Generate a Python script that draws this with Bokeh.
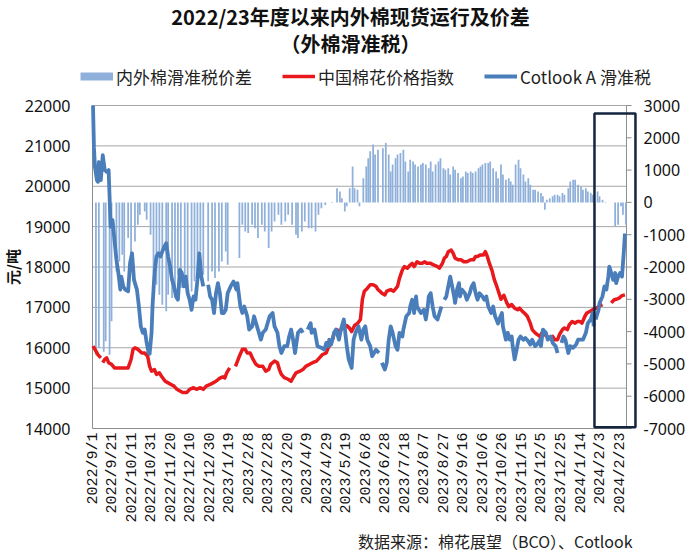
import math
from datetime import date
from bokeh.plotting import figure
from bokeh.models import Range1d, Legend, Label, LegendItem, BoxAnnotation
from bokeh.core.properties import value
from bokeh.embed import file_html
from bokeh.resources import INLINE

NaN = float("nan")
START = date(2022, 9, 1)

tick_labels = ["2022/9/1", "2022/9/21", "2022/10/11", "2022/10/31", "2022/11/20",
               "2022/12/10", "2022/12/30", "2023/1/19", "2023/2/8", "2023/2/28",
               "2023/3/20", "2023/4/9", "2023/4/29", "2023/5/19", "2023/6/8",
               "2023/6/28", "2023/7/18", "2023/8/7", "2023/8/27", "2023/9/16",
               "2023/10/6", "2023/10/26", "2023/11/15", "2023/12/5", "2023/12/25",
               "2024/1/14", "2024/2/3", "2024/2/23"]

# Cotlook A (sliding-tariff), yuan/t  -- day offsets from 2022/9/1
cotlook_day = [0, 1, 2, 4, 5, 6, 8, 10, 12, 14,
               16, 17, 18, 20, 22, 24, 26, 28, 29, 31,
               33, 36, 38, 40, 42, 45, 47, 49, 51, 53,
               55, 57, 58, 60, 61, 63, 65, 67, 69, 71,
               73, 75, 77, 79, 81, 83, 85, 87, 89, 91,
               93, 95, 97, 99, 101, 103, 105, 107, 109, 111,
               113, 115, 118, 120, 122, 124, 126, 128, 130, 132,
               134, 136, 138, 141, 144, 147, 148, 151, 153, 155,
               158, 160, 163, 165, 169, 172, 174, 177, 181, 184,
               186, 189, 191, 193, 196, 199, 201, 203, 205, 207,
               210, 213, 215, 217, 220, 223, 224, 227, 230, 234,
               237, 239, 241, 242, 244, 247, 249, 252, 254, 257,
               260, 262, 265, 267, 269, 272, 275, 277, 279, 281,
               284, 286, 288, 290, 293, 294, 296, 299, 301, 303,
               305, 307, 310, 312, 314, 317, 318, 321, 324, 325,
               327, 329, 331, 332, 334, 336, 339, 341, 343, 344,
               346, 348, 350, 353, 355, 357, 358, 360, 362, 364,
               366, 368, 370, 371, 373, 375, 376, 378, 381, 383,
               386, 388, 390, 392, 394, 396, 399, 401, 403, 405,
               408, 410, 412, 415, 417, 419, 420, 423, 425, 427,
               429, 430, 432, 434, 436, 438, 441, 443, 446, 448,
               450, 453, 455, 458, 459, 461, 464, 466, 469, 471,
               474, 476, 478, 480, 482, 484, 487, 489, 492, 495,
               497, 499, 502, 505, 507, 510, 512, 513, 514, 515,
               518, 519, 522, 524, 526, 528, 529, 531, 533, 535,
               536, 538, 540, 542, 544, 545]
cotlook_val = [22000, 20950, 20480, 20150, 20110, 20600, 20150, 20770, 20400, 20360,
               20400, 19740, 19000, 19160, 18670, 18180, 17850, 17440, 17760, 17520,
               17440, 17400, 18100, 18340, 17680, 17440, 17030, 16530, 16370, 16450,
               16120, 15870, 15850, 16370, 17030, 17850, 18260, 18340, 18260, 18380,
               18500, 18590, 18260, 18010, 17680, 17520, 17270, 17190, 17930, 17850,
               17520, 17760, 17350, 17190, 16940, 17270, 17190, 17680, 18340, 17760,
               17520, NaN, 17560, 17270, 17190, 16860, 17350, 17600, 17350, 16860,
               16860, 16940, 17350, 17520, 17640, 17440, 17600, 17020, 16860, 17020,
               16780, 16450, 16530, 16780, 16450, 16200, 16370, 16450, 16780, 16860,
               16530, 16370, 16040, 15870, 16040, 16040, 16280, 16450, 16200, 15870,
               16370, 16450, 16370, NaN, 16450, 16610, 16370, 16450, 16040, 16000,
               15950, 16120, 16040, 16200, 16080, 16370, 16450, 16200, 16450, 16700,
               16040, 15710, 15500, 16200, 16370, 16530, 16200, 16450, 16530, 16200,
               16040, 15790, 15870, 15950, 15870, NaN, 15630, 15460, 15630, 16200,
               16530, 16370, 16040, 15950, 16370, 16280, 16450, 16780, 16860, 17020,
               17190, 16860, 17270, 17020, 16940, 16860, 16940, 16700, 17020, 17270,
               17350, 17020, 16780, 16700, 16860, 17020, NaN, 17190, 17270, 17520,
               17760, 17520, 17270, 17110, 17440, 17600, 17270, 17440, 17350, 17190,
               17350, 17520, 17600, 17350, 17190, 17350, 17270, 17190, 17270, 17020,
               16860, 17020, 16780, 16600, 16750, 16860, 16530, 16200, 16370, 16200,
               16280, 16040, 15710, 15950, 16200, 16280, 16200, 16240, 16160, 16080,
               16200, 16040, 16080, 16200, 16040, 16450, 16370, 16200, 16280, 16120,
               16040, 15870, NaN, 16120, 16280, 16200, 15870, 16040, 16000, 16080,
               16200, 16200, 16200, 16370, 16610, 16700, 16860, 16530, NaN, 16700,
               16940, 17110, 17270, 17520, 17440, 17760, 18010, 17850, 17680, 17850,
               17600, 17760, 17850, 17760, 18420, 18830]

# China Cotton Index, yuan/t
cc_day = [0, 2, 5, 8, 9, 10, 12, 14, 16, 19,
          22, 26, 29, 33, 36, 39, 41, 43, 46, 50,
          53, 56, 58, 60, 63, 65, 68, 70, 74, 77,
          80, 83, 86, 89, 92, 96, 99, 103, 106, 110,
          113, 116, 120, 123, 126, 130, 133, 135, 137, 140,
          142, 146, 150, 153, 156, 158, 161, 164, 167, 170,
          174, 177, 180, 182, 186, 189, 191, 193, 196, 200,
          203, 206, 208, 212, 215, 218, 222, 225, 229, 232,
          235, 239, 241, 243, 246, 247, 250, 252, 255, 258,
          260, 263, 265, 268, 271, 274, 276, 278, 281, 284,
          287, 290, 292, 294, 296, 299, 301, 305, 308, 312,
          314, 317, 319, 322, 325, 327, 329, 332, 335, 337,
          340, 342, 346, 349, 353, 355, 358, 360, 362, 364,
          367, 369, 371, 374, 377, 380, 383, 387, 390, 392,
          394, 397, 400, 402, 404, 406, 409, 411, 414, 416,
          418, 421, 424, 426, 429, 432, 435, 437, 440, 442,
          445, 448, 450, 453, 455, 458, 460, 463, 465, 468,
          471, 473, 476, 478, 481, 483, 486, 488, 491, 494,
          496, 499, 501, 504, 506, 509, 512, 514, 516, 519,
          522, 526, 531, 534, 536, 539, 542, 545]
cc_val = [16040, 15960, 15830, 15750, NaN, 15630, 15710, 15750, 15630, 15590,
          15500, 15500, 15500, 15500, 15500, 15710, 15960, 16000, 15960, 15870,
          15870, 15790, 15540, 15420, 15460, 15340, 15380, 15300, 15170, 15130,
          15090, 15050, 14970, 14930, 14890, 14890, 14970, 15010, 14970, 15010,
          14970, 15050, 15090, 15130, 15170, 15250, 15280, 15250, 15380, 15500,
          NaN, 15540, 15790, 15960, 15960, 15870, 15870, 15710, 15590, 15540,
          15540, 15420, 15460, 15590, 15670, 15630, 15460, 15340, 15260, 15220,
          15170, 15300, 15380, 15420, 15460, 15540, 15590, 15630, 15670, 15750,
          15830, 15870, 16000, 16080, 16240, 16370, 16450, 16370, 16480, 16500,
          16550, 16480, 16400, 16550, 16600, 16700, 17200, 17400, 17470, 17560,
          17560, 17520, 17440, 17400, 17350, 17310, 17400, 17440, 17400, 17520,
          17720, 17930, 18010, 17970, 18050, 18090, 18010, 18130, 18090, 18090,
          18130, 18090, 18090, 18050, 18010, 17970, 18090, 18220, 18260, 18380,
          18420, 18340, 18220, 18180, 18180, 18130, 18130, 18180, 18180, 18260,
          18260, 18300, 18300, 18380, 18260, 18100, 17900, 17700, 17500, 17350,
          17200, 17300, 17110, 17020, 17070, 16980, 16940, 16980, 16900, 16860,
          16780, 16610, 16450, 16370, 16330, 16280, 16370, 16330, 16280, 16240,
          16280, 16200, 16200, 16330, 16450, 16490, 16450, 16570, 16650, 16610,
          16650, 16650, 16610, 16780, 16860, 16900, 16940, 16980, 16980, 17040,
          17070, NaN, 17110, 17190, 17200, 17230, 17290, 17310]

# Domestic minus imported (sliding tariff) spread, yuan/t
spread_day = [3, 6, 11, 13, 17, 19, 24, 27, 30, 32,
              36, 39, 43, 46, 48, 53, 55, 59, 62, 65,
              68, 71, 75, 77, 81, 84, 87, 90, 94, 97,
              101, 104, 107, 110, 113, 118, 122, 125, 129, 132,
              136, 138, 150, 153, 156, 159, 163, 166, 169, 173,
              176, 180, 183, 186, 190, 193, 197, 200, 204, 208,
              210, 214, 217, 221, 224, 228, 231, 234, 238, 245,
              250, 253, 255, 258, 260, 263, 266, 268, 271, 273,
              277, 280, 282, 284, 287, 289, 292, 297, 300, 303,
              305, 307, 310, 312, 315, 318, 320, 323, 325, 328,
              330, 333, 336, 338, 341, 344, 346, 348, 351, 354,
              356, 359, 361, 364, 366, 369, 371, 374, 377, 379,
              382, 384, 387, 389, 392, 395, 397, 399, 402, 405,
              407, 410, 413, 415, 418, 420, 423, 426, 428, 430,
              433, 436, 438, 441, 443, 446, 448, 451, 453, 456,
              459, 461, 463, 465, 468, 471, 473, 476, 478, 481,
              483, 487, 489, 492, 494, 497, 500, 502, 505, 507,
              510, 512, 517, 519, 522, 525, 535, 538, 541, 543, 546]
spread_val = [-4720, -4500, -4620, -4300, -4720, -3680, -2140, -1830, -1620, -2140,
              -1100, -1620, -1210, -690, -380, -280, -540, -1000, -2140, -2550,
              -2860, -3170, -3370, -2860, -2960, -2650, -2240, -2650, -2440, -2860,
              -2760, -2440, -2240, -1520, -2240, -2440, -2140, -2340, -2140, -1830,
              -1520, -1930, -1720, -690, -900, -950, -690, -800, -1100, -690,
              -900, -1410, -900, -590, -380, -690, -590, -380, -690, -1000,
              -1100, -900, -590, -800, -800, -900, -380, -180, -80, -20,
              440, 340, 130, -280, -120, 440, 1110, 440, 390, -120,
              750, 1110, 1370, 1580, 1790, 1480, 1630, 1680, 1840, 1480,
              960, 1170, 1370, 1480, 1530, 1630, 1270, 960, 1320, 1270,
              1170, 1110, 1170, 1220, 1170, 1060, 1270, 960, 1170, 1270,
              1370, 1060, 1010, 1060, 860, 1110, 1010, 910, 750, 800,
              960, 910, 960, 910, 960, 1060, 1110, 1170, 1220, 1220,
              1270, 1060, 960, 750, 1170, 860, 700, 750, 650, 550,
              1170, 1320, 1060, 860, 650, 750, 550, 390, 390, 340,
              290, 190, -230, 80, 130, 190, 240, 240, 190, 290,
              240, 440, 650, 700, 700, 550, 500, 390, 440, 340,
              290, 240, 340, 190, 80, -20, -740, -690, -120, -380, -690]

left_ticks = list(range(14000, 22001, 1000))
right_ticks = list(range(-7000, 3001, 1000))

BLUE = "#4a7ebb"
RED = "#e8191d"
BAR = "#8fb0da"
NAVY = "#15243f"
GRID = "#a6a6a6"
AXIS = "#8c8c8c"
INK = "#111111"
CJK = "Noto Sans CJK SC"

# Geometry: the frame fills the whole canvas; value axes are drawn inside it.
W, H = 696, 552
PLOT_TOP, PLOT_BOT = 105, 428              # 22000/3000 and 14000/-7000 rows (px)
DAY0_PX, PX_PER_DAY = 92.5, 0.976          # where 2022/9/1 sits, and scale
L_PER_PX = (22000 - 14000) / (PLOT_BOT - PLOT_TOP)
R_PER_PX = (3000 - (-7000)) / (PLOT_BOT - PLOT_TOP)
Y_LO = 14000 - (H - PLOT_BOT) * L_PER_PX
Y_HI = 22000 + PLOT_TOP * L_PER_PX
R_LO = -7000 - (H - PLOT_BOT) * R_PER_PX
R_HI = 3000 + PLOT_TOP * R_PER_PX
X_LO = -DAY0_PX / PX_PER_DAY
X_HI = (W - DAY0_PX) / PX_PER_DAY
X_AX = -0.5            # left value axis
X_END_DATA = 546.6     # right value axis (last day shown)


def day_of(s):
    y, m, d = map(int, s.split("/"))
    return (date(y, m, d) - START).days


tick_pos = [day_of(s) for s in tick_labels]

p = figure(width=W, height=H, output_backend="svg", toolbar_location=None,
           x_range=Range1d(X_LO, X_HI), y_range=Range1d(Y_LO, Y_HI),
           x_axis_location=None, y_axis_location=None, title_location=None,
           min_border=0, min_border_left=0, min_border_right=0,
           min_border_top=0, min_border_bottom=0)
p.outline_line_color = None
p.background_fill_color = "white"
p.border_fill_color = "white"
p.extra_y_ranges = {"r": Range1d(R_LO, R_HI)}
p.grid.visible = False

# gridlines (left value scale) and axis lines
p.segment(x0=X_AX, x1=X_END_DATA, y0=left_ticks[1:], y1=left_ticks[1:],
          line_color=GRID, line_width=1)
p.segment(x0=[X_AX, X_END_DATA, X_AX], x1=[X_AX, X_END_DATA, X_END_DATA],
          y0=[14000, 14000, 14000], y1=[22000, 22000, 14000],
          line_color=AXIS, line_width=1)
# right-axis tick marks
p.segment(x0=X_END_DATA, x1=X_END_DATA + 5.2, y0=right_ticks, y1=right_ticks,
          y_range_name="r", line_color=AXIS, line_width=1)

# left value-axis labels and title
p.text(x=[X_AX] * len(left_ticks), y=left_ticks, text=[str(v) for v in left_ticks],
       x_offset=-22, text_align="right", text_baseline="middle",
       text_font=value("Noto Sans"), text_font_size=value("16px"), text_color=INK)
p.text(x=[X_AX], y=[18000], text=["元/吨"], angle=math.pi / 2, x_offset=-80,
       text_align="center", text_baseline="middle", text_font=value(CJK),
       text_font_size=value("15px"), text_font_style=value("bold"), text_color=INK)

# right value-axis labels
p.text(x=[X_END_DATA] * len(right_ticks), y=right_ticks,
       text=[str(v) for v in right_ticks], y_range_name="r", x_offset=17,
       text_align="left", text_baseline="middle", text_font=value("Noto Sans"),
       text_font_size=value("16px"), text_color=INK)

# date labels (vertical, reading upwards)
p.text(x=tick_pos, y=[14000] * len(tick_pos), text=tick_labels,
       angle=math.pi / 2, text_align="right", text_baseline="middle",
       y_offset=4, text_font=value("Liberation Mono"),
       text_font_size=value("15px"), text_color=INK)

# data
p.vbar(x=spread_day, top=spread_val, bottom=0, width=1.8, y_range_name="r",
       fill_color=BAR, line_color=None)
red = p.line(cc_day, cc_val, line_color=RED, line_width=3.5, line_join="round")
blue = p.line(cotlook_day, cotlook_val, line_color=BLUE, line_width=3.8,
              line_join="round")
bar_key = p.line([NaN], [NaN], line_color=BAR, line_width=8, line_cap="butt")

# highlight box
p.add_layout(BoxAnnotation(left=513.8, right=555.8, top=21800, bottom=14030,
                           fill_color=None, fill_alpha=0, line_color=NAVY,
                           line_alpha=1.0, line_width=2.5))

# legend
legend = Legend(items=[LegendItem(label="内外棉滑准税价差", renderers=[bar_key]),
                       LegendItem(label="中国棉花价格指数", renderers=[red]),
                       LegendItem(label="Cotlook A 滑准税", renderers=[blue])],
                orientation="horizontal", location=(80, H - 88.5),
                glyph_width=33, glyph_height=20, label_height=20,
                label_standoff=3, spacing=30, padding=0, margin=0,
                border_line_color=None, background_fill_alpha=0,
                label_text_font=CJK, label_text_font_size="17px",
                label_text_color="#222222")
p.add_layout(legend)

# titles and source note (screen units from the canvas bottom-left)
p.add_layout(Label(x=350, y=H - 15.5, x_units="screen", y_units="screen",
                   text="2022/23年度以来内外棉现货运行及价差", text_align="center",
                   text_baseline="middle", text_font=CJK, text_font_size="20px",
                   text_font_style="bold", text_color=INK))
p.add_layout(Label(x=350, y=H - 42.5, x_units="screen", y_units="screen",
                   text="（外棉滑准税）", text_align="center",
                   text_baseline="middle", text_font=CJK, text_font_size="20px",
                   text_font_style="bold", text_color=INK))
p.add_layout(Label(x=632, y=H - 540, x_units="screen", y_units="screen",
                   text="数据来源：棉花展望（BCO）、Cotlook", text_align="right",
                   text_baseline="middle", text_font=CJK, text_font_size="16px",
                   text_color="#222222"))

open("out.html", "w").write(file_html(p, INLINE))
